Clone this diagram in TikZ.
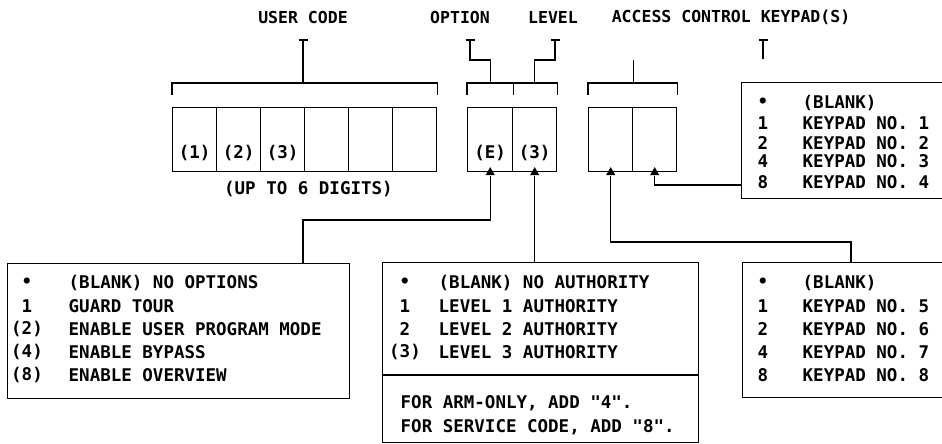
\documentclass[tikz,border=0pt]{standalone}
\usepackage{fontspec}
\newfontfamily\lblfont{DejaVu Sans Mono}
\usetikzlibrary{shapes.geometric}
\begin{document}
\begin{tikzpicture}[x=1pt,y=-1pt,line width=1.4pt,
  cellbox/.style={draw,minimum height=64pt,inner sep=0pt,anchor=north west},
  panel/.style={draw,inner sep=0pt,anchor=north west},
  txt/.style={font=\lblfont\bfseries\fontsize{17.5}{17.5}\selectfont,inner sep=0pt},
  title/.style={font=\lblfont\bfseries\fontsize{16.5}{16.5}\selectfont,inner sep=0pt},
  lft/.style={txt,anchor=west},
  tri/.style={regular polygon,regular polygon sides=3,fill,draw=none,minimum size=10.5pt,inner sep=0pt}]
\useasboundingbox (0,0) rectangle (942,444);
\clip (0,0) rectangle (942,444);
% titles
\node[title] (tUser) at (303,17) {USER CODE};
\node[title] (tOpt) at (460,17) {OPTION};
\node[title] (tLvl) at (553,17) {LEVEL};
\node[title] (tAcc) at (731,17) {ACCESS CONTROL KEYPAD(S)};
% user code cells
\foreach \i in {1,...,6}{
  \node[cellbox,minimum width=44pt] (u\i) at ({172+44*(\i-1)},107) {};
}
\node[txt] (d1) at ([yshift=19pt]u1.south) {(1)};
\node[txt] (d2) at ([yshift=19pt]u2.south) {(2)};
\node[txt] (d3) at ([yshift=19pt]u3.south) {(3)};
\node[txt] (upto) at ([yshift=-17pt,xshift=3pt]u3.south east) {(UP TO 6 DIGITS)};
% option / level cells
\node[cellbox,minimum width=45pt] (o1) at (467,107) {};
\node[cellbox,minimum width=44pt] (l1) at (512,107) {};
\node[txt] (dE) at ([yshift=19pt]o1.south) {(E)};
\node[txt] (dL) at ([yshift=19pt]l1.south) {(3)};
% keypad cells
\node[cellbox,minimum width=44pt] (k1) at (588,107) {};
\node[cellbox,minimum width=44pt] (k2) at (632,107) {};
% brackets
\draw ([yshift=12pt]u1.north west) -- ([yshift=24pt]u1.north west) -- ([yshift=24pt]u6.north east) -- ([yshift=12pt]u6.north east);
\draw ([yshift=12pt]o1.north west) -- ([yshift=24pt]o1.north west) -- ([yshift=24pt]l1.north east) -- ([yshift=12pt]l1.north east);
\draw ([yshift=24pt]o1.north east) -- ([yshift=12pt]o1.north east);
\draw ([yshift=12pt]k1.north west) -- ([yshift=24pt]k1.north west) -- ([yshift=24pt]k2.north east) -- ([yshift=12pt]k2.north east);
% T marks and leads
\coordinate (TU) at (303,40);
\coordinate (TO) at (470,40);
\coordinate (TL) at (555,40);
\coordinate (TK) at (763,40);
\coordinate (jOL) at (0,60);
\foreach \c in {TU,TO,TL,TK}{ \draw ([xshift=-4.5pt]\c) -- ([xshift=4.5pt]\c); }
\draw (TU) -- ([yshift=24pt]TU |- u1.north);
\draw (TO) -- (TO |- jOL) -| ([yshift=24pt]dE |- o1.north);
\draw (TL) -- (TL |- jOL) -| ([yshift=24pt]dL |- l1.north);
\draw (TK) -- ++(0,19);
\draw ([yshift=24pt]k1.north east) -- ++(0,-23);
% triangles
\node[tri] (tO) at (o1.south) {};
\node[tri] (tL) at (l1.south) {};
\node[tri] (tK1) at (k1.south) {};
\node[tri] (tK2) at (k2.south) {};
% panels
\node[panel,minimum width=342pt,minimum height=135pt] (bl) at (7,263) {};
\node[panel,minimum width=316pt,minimum height=180pt] (bm) at (382,262) {};
\node[panel,minimum width=230pt,minimum height=135pt] (br) at (742,262) {};
\node[panel,minimum width=230pt,minimum height=116pt] (tr) at (741,82) {};
\coordinate (divy) at (0,375);
\draw (bm.west |- divy) -- (bm.east |- divy);
% connectors
\coordinate (jO) at (303,220);
\coordinate (jK1) at (851,242);
\coordinate (yK2) at (0,185);
\draw (tO.south) |- (jO) -- (jO |- bl.north);
\draw (tL.south) -- (tL.south |- bm.north);
\draw (tK1.south) |- (jK1) -- (jK1 |- br.north);
\draw (tK2.south) |- (tr.west |- yK2);
% bottom-left text
\node[txt] (a1) at (27,283) {•};
\node[txt] (a2) at (27,306) {1};
\node[txt] (a3) at (27,329) {(2)};
\node[txt] (a4) at (27,352) {(4)};
\node[txt] (a5) at (27,375) {(8)};
\node[lft] (b1) at (68,283) {(BLANK) NO OPTIONS};
\node[lft] (b2) at (68,306) {GUARD TOUR};
\node[lft] (b3) at (68,329) {ENABLE USER PROGRAM MODE};
\node[lft] (b4) at (68,352) {ENABLE BYPASS};
\node[lft] (b5) at (68,375) {ENABLE OVERVIEW};
% bottom-middle text
\node[txt] (m1) at (405,283) {•};
\node[txt] (m2) at (405,306) {1};
\node[txt] (m3) at (405,329) {2};
\node[txt] (m4) at (405,352) {(3)};
\node[lft] (n1) at (438,283) {(BLANK) NO AUTHORITY};
\node[lft] (n2) at (438,306) {LEVEL 1 AUTHORITY};
\node[lft] (n3) at (438,329) {LEVEL 2 AUTHORITY};
\node[lft] (n4) at (438,352) {LEVEL 3 AUTHORITY};
\node[lft] (f1) at (400,403) {FOR ARM-ONLY, ADD "4".};
\node[lft] (f2) at (400,427) {FOR SERVICE CODE, ADD "8".};
% bottom-right text
\node[txt] (r1) at (763,283) {•};
\node[txt] (r2) at (763,306) {1};
\node[txt] (r3) at (763,329) {2};
\node[txt] (r4) at (763,352) {4};
\node[txt] (r5) at (763,375) {8};
\node[lft] (s1) at (802,283) {(BLANK)};
\node[lft] (s2) at (802,306) {KEYPAD NO. 5};
\node[lft] (s3) at (802,329) {KEYPAD NO. 6};
\node[lft] (s4) at (802,352) {KEYPAD NO. 7};
\node[lft] (s5) at (802,375) {KEYPAD NO. 8};
% top-right text
\node[txt] (p1) at (763,103) {•};
\node[txt] (p2) at (763,123) {1};
\node[txt] (p3) at (763,143) {2};
\node[txt] (p4) at (763,161) {4};
\node[txt] (p5) at (763,182) {8};
\node[lft] (q1) at (802,103) {(BLANK)};
\node[lft] (q2) at (802,123) {KEYPAD NO. 1};
\node[lft] (q3) at (802,143) {KEYPAD NO. 2};
\node[lft] (q4) at (802,161) {KEYPAD NO. 3};
\node[lft] (q5) at (802,182) {KEYPAD NO. 4};
\end{tikzpicture}
\end{document}
